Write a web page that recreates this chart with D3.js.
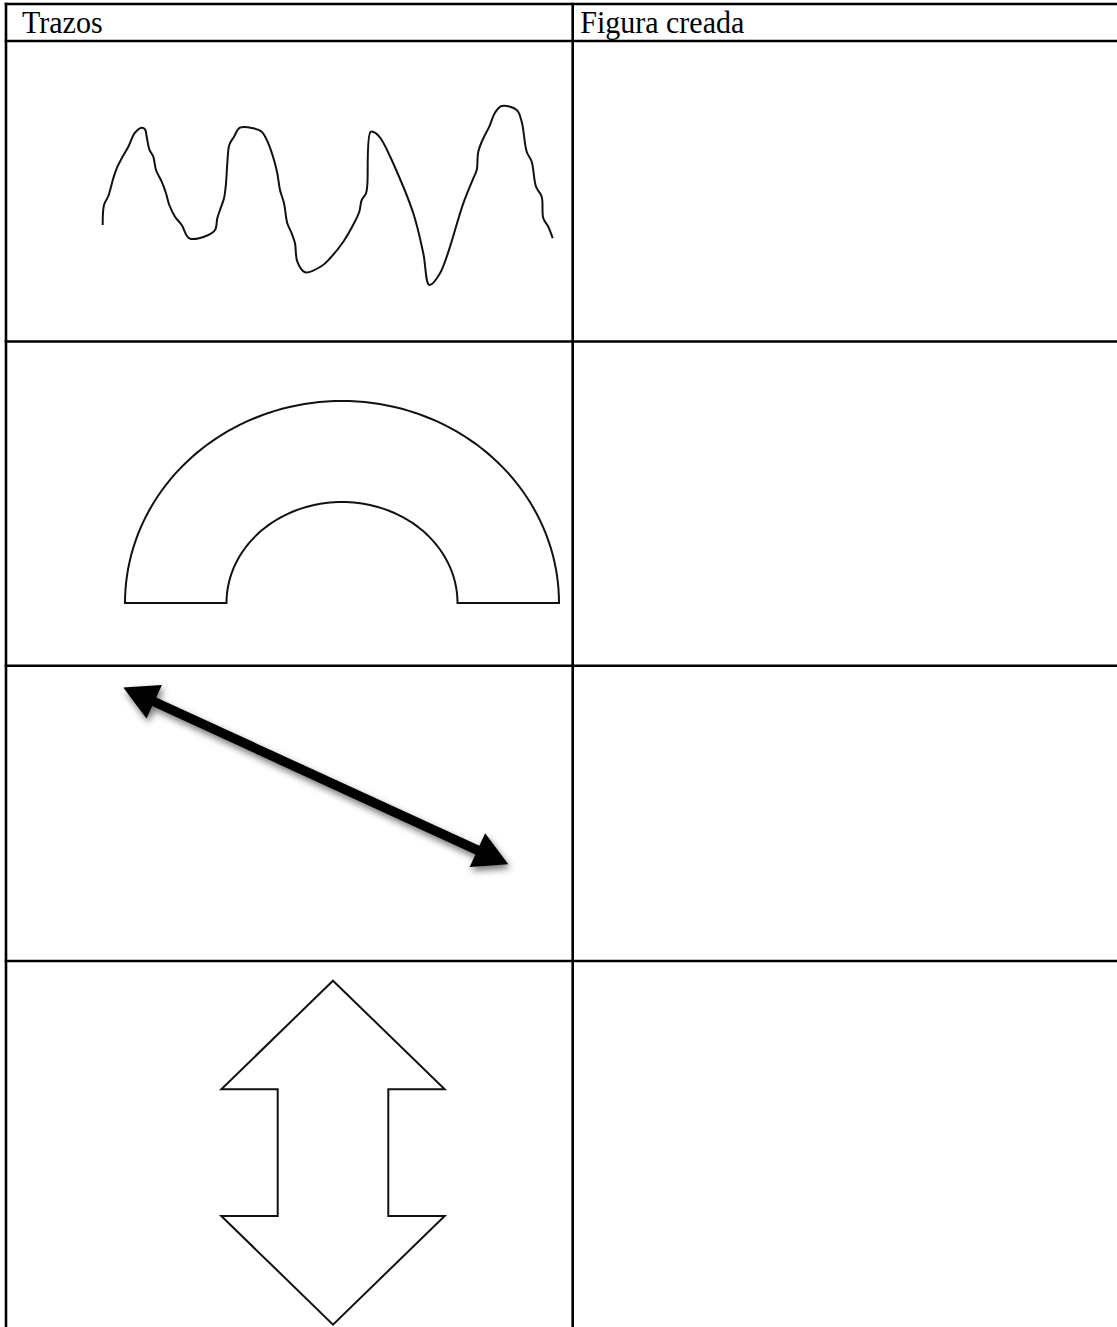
<!DOCTYPE html>
<html lang="es">
<head>
<meta charset="utf-8">
<title>Trazos</title>
<script src="https://d3js.org/d3.v7.min.js"></script>
<style>
body { margin: 0; background: #fff; }
svg { display: block; }
.grid line { stroke: #000; stroke-width: 2.6; }
.head { font-family: "Liberation Serif", "Times New Roman", serif; font-size: 30px; fill: #000; }
.trace { fill: none; stroke: #111; stroke-width: 2; }
</style>
</head>
<body>
<script>

// header labels
var headers = ["Trazos", "Figura creada"];

// row 1: hand drawn wave (cell units)
var waveX = [96.7,98,102.3,107.3,110.7,115.7,122.3,129,135.7,139,140.7,143.3,147.3,150,155.7,160,163.3,169,175.7,183.3,
             200.7,209,211.3,214,218,220,221.3,223.3,228,234,247.3,255.7,262.3,268,271.3,274,278,281.3,285.7,289,
             291.3,299,315.7,324,337.3,348,353.3,355.7,360,361.3,364.7,370,375.7,385.7,407.3,417.3,423.3,434,457.3,467.3,
             470.7,472.3,477.3,483.3,489,495.7,510.7,515.7,520.7,525.7,530,535.7,537.3,542.3,546.7];
var waveY = [184,164,155,137.3,127.3,117.3,105.7,91.7,86.7,88.3,95.7,108.3,115.7,129,140.7,152.3,164,175.7,184,197.3,
             194.7,189,177.3,169,157.3,142.3,122.3,104,95.7,86.7,87.3,90.7,102.3,119,132.3,149,162.3,182.3,192.3,202.3,
             220.7,231.3,225,217.3,200.7,182.3,170.7,159,152.3,144,90.7,92.3,99,119,172.3,212.3,244,232.3,162.3,137.3,
             129,110.7,97.3,85.7,71.7,65,69,80.7,110.7,120.7,145.7,155.7,177.3,185.7,197.3];

// row 2: half ring (centre, radii)
var ringCenter = [336, 261.5];
var ringOuter = [217, 202];
var ringInner = [115.5, 101];

// row 3: double arrow (two tips), head length / width, shaft width
var arrowTips = [[117.3, 21.8], [502.3, 198.5]];
var arrowHead = [34, 37];
var arrowShaft = 9.5;

// row 4: up-down arrow outline
var udCenter = 327;
var udTipTop = 19.7, udHeadTop = 128.3, udHeadBottom = 255, udTipBottom = 363.6;
var udHeadHalf = 111.7, udShaftHalf = 55.3;

// table layout
var width = 1117, height = 1327;
var colEdges = [6, 572.7, 1140];
var rowEdges = [4, 41, 341.5, 665.8, 961, 1340];

var svg = d3.select("body").append("svg")
    .attr("width", width)
    .attr("height", height);

var defs = svg.append("defs");
var shadow = defs.append("filter").attr("id", "shadow")
    .attr("x", "-20%").attr("y", "-20%").attr("width", "140%").attr("height", "150%");
shadow.append("feDropShadow")
    .attr("dx", 2).attr("dy", 4)
    .attr("stdDeviation", 3.5)
    .attr("flood-color", "#000")
    .attr("flood-opacity", 0.55);

// scales for one cell of the first column
function cellScales(row) {
  var x0 = colEdges[0], y0 = rowEdges[row + 1];
  var x = d3.scaleLinear().domain([0, colEdges[1] - x0]).range([x0, colEdges[1]]);
  var y = d3.scaleLinear().domain([0, rowEdges[row + 2] - y0]).range([y0, rowEdges[row + 2]]);
  return {x: x, y: y};
}

// grid
var grid = svg.append("g").attr("class", "grid");
grid.selectAll("line.h")
    .data(rowEdges.slice(0, 5))
    .enter().append("line")
    .attr("class", "h")
    .attr("x1", colEdges[0] - 1.3).attr("x2", width)
    .attr("y1", function(d) { return d; })
    .attr("y2", function(d) { return d; });
grid.selectAll("line.v")
    .data(colEdges.slice(0, 2))
    .enter().append("line")
    .attr("class", "v")
    .attr("x1", function(d) { return d; })
    .attr("x2", function(d) { return d; })
    .attr("y1", rowEdges[0] - 1.3).attr("y2", height);

// header text (the source scan is a bit taller than wide)
svg.selectAll("text.head")
    .data(headers)
    .enter().append("text")
    .attr("class", "head")
    .attr("transform", function(d, i) {
      return "translate(" + (colEdges[i] + (i == 0 ? 16 : 7.5)) + ",33) scale(1,1.08)";
    })
    .text(function(d) { return d; });

// row 1 wave
var s1 = cellScales(0);
var wave = waveX.map(function(d, i) { return [d, waveY[i]]; });
svg.append("path")
    .attr("class", "trace")
    .attr("stroke-width", 2.4)
    .attr("stroke-linejoin", "round")
    .attr("d", d3.line()
        .x(function(d) { return s1.x(d[0]); })
        .y(function(d) { return s1.y(d[1]); })
        .curve(d3.curveCatmullRom)(wave));

// row 2 half ring
var s2 = cellScales(1);
var angles = d3.range(0, 181, 2);
function ellipsePts(r, reverse) {
  var a = reverse ? angles.slice().reverse() : angles;
  return a.map(function(t) {
    var rad = t * Math.PI / 180;
    return [ringCenter[0] - r[0] * Math.cos(rad), ringCenter[1] - r[1] * Math.sin(rad)];
  });
}
var ring = ellipsePts(ringOuter, false).concat(ellipsePts(ringInner, true));
svg.append("path")
    .attr("class", "trace")
    .attr("stroke-width", 2.2)
    .attr("d", d3.line()
        .x(function(d) { return s2.x(d[0]); })
        .y(function(d) { return s2.y(d[1]); })(ring) + "Z");

// row 3 double arrow
var s3 = cellScales(2);
var a = arrowTips[0], b = arrowTips[1];
var dx = b[0] - a[0], dy = b[1] - a[1], len = Math.sqrt(dx * dx + dy * dy);
var ux = dx / len, uy = dy / len, nx = -uy, ny = ux;
function headPts(tip, dir) {
  var bx = tip[0] + dir * ux * arrowHead[0], by = tip[1] + dir * uy * arrowHead[0];
  var hw = arrowHead[1] / 2;
  return [tip, [bx + nx * hw, by + ny * hw], [bx - nx * hw, by - ny * hw]];
}
var arrowLine = d3.line()
    .x(function(d) { return s3.x(d[0]); })
    .y(function(d) { return s3.y(d[1]); });
var arrowG = svg.append("g").attr("filter", "url(#shadow)");
arrowG.append("path")
    .attr("d", arrowLine([
        [a[0] + ux * arrowHead[0] * 0.7, a[1] + uy * arrowHead[0] * 0.7],
        [b[0] - ux * arrowHead[0] * 0.7, b[1] - uy * arrowHead[0] * 0.7]]))
    .attr("stroke", "#000")
    .attr("stroke-width", arrowShaft);
arrowG.selectAll("path.tip")
    .data([headPts(a, 1), headPts(b, -1)])
    .enter().append("path")
    .attr("class", "tip")
    .attr("d", function(d) { return arrowLine(d) + "Z"; })
    .attr("fill", "#000");

// row 4 up-down arrow
var s4 = cellScales(3);
var ud = [
  [udCenter, udTipTop],
  [udCenter + udHeadHalf, udHeadTop],
  [udCenter + udShaftHalf, udHeadTop],
  [udCenter + udShaftHalf, udHeadBottom],
  [udCenter + udHeadHalf, udHeadBottom],
  [udCenter, udTipBottom],
  [udCenter - udHeadHalf, udHeadBottom],
  [udCenter - udShaftHalf, udHeadBottom],
  [udCenter - udShaftHalf, udHeadTop],
  [udCenter - udHeadHalf, udHeadTop]
];
svg.append("path")
    .attr("class", "trace")
    .attr("stroke-width", 2.2)
    .attr("d", d3.line()
        .x(function(d) { return s4.x(d[0]); })
        .y(function(d) { return s4.y(d[1]); })(ud) + "Z");

</script>
</body>
</html>
